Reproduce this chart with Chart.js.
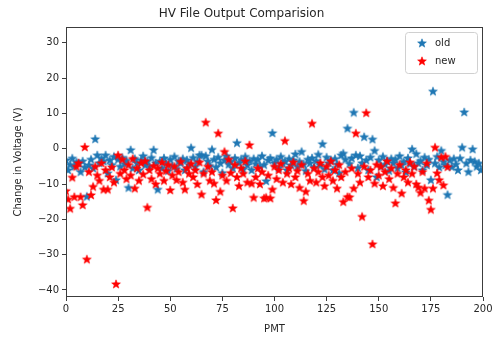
<!DOCTYPE html>
<html>
<head>
<meta charset="utf-8">
<script src="https://cdn.jsdelivr.net/npm/chart.js@4/dist/chart.umd.min.js"></script>
<style>
  html, body { margin: 0; padding: 0; background: #fff; }
  #wrap { width: 492px; height: 337px; }
</style>
</head>
<body>
<div id="wrap"><canvas id="c" width="492" height="337"></canvas></div>
<script>
// PMT index and voltage change (V) for the old HV file
const pmtOld = [
  0,1,2,3,4,5,6,7,8,9,10,11,12,13,14,15,16,17,18,19,
  20,21,22,23,24,25,26,27,28,29,30,31,32,33,34,35,36,37,38,39,
  40,41,42,43,44,45,46,47,48,49,50,51,52,53,54,55,56,57,58,59,
  60,61,62,63,64,65,66,67,68,69,70,71,72,73,74,75,76,77,78,79,
  80,81,82,83,84,85,86,87,88,89,90,91,92,93,94,95,96,97,98,99,
  100,101,102,103,104,105,106,107,108,109,110,111,112,113,114,115,116,117,118,119,
  120,121,122,123,124,125,126,127,128,129,130,131,132,133,134,135,136,137,138,139,
  140,141,142,143,144,145,146,147,148,149,150,151,152,153,154,155,156,157,158,159,
  160,161,162,163,164,165,166,167,168,169,170,171,172,173,174,175,176,177,178,179,
  180,181,182,183,184,185,186,187,188,189,190,191,192,193,194,195,196,197,198,199
];
const oldValues = [
  -3.2,-6.0,-4.5,-2.7,-5.0,-3.8,-4.1,-6.5,-3.5,-5.2,
  -13.5,-4.6,-3.0,-5.5,2.8,-1.8,-4.0,-2.7,-3.5,-1.8,
  -6.9,-3.2,-4.5,-2.2,-8.8,-3.0,-5.0,-2.5,-4.2,-3.3,
  -11.0,-0.3,-5.5,-2.8,-4.0,-6.0,-3.2,-2.0,-4.6,-3.5,
  -5.0,-2.5,-0.3,-4.0,-11.5,-3.5,-5.5,-2.6,-4.2,-6.2,
  -3.0,-4.8,-2.2,-5.6,-3.5,-4.0,-2.8,-6.0,-3.2,-4.5,
  0.3,-2.5,-5.0,-3.6,-1.8,-1.8,-6.5,-2.0,-3.5,-4.8,
  -0.2,-3.0,-5.2,-2.4,-4.0,-6.8,-3.2,-2.0,-4.4,-3.6,
  -5.5,-2.6,1.7,-4.0,-3.0,-5.8,-2.2,-4.6,-3.4,-6.0,
  -2.8,-4.2,-3.0,-5.0,-2.0,-4.5,-9.1,-3.2,-2.6,4.5,
  -4.0,-3.0,-5.5,-2.2,-4.2,-3.5,-6.0,-2.8,-4.6,-3.2,
  -1.5,-5.0,-3.6,-0.8,-4.4,-6.2,-3.0,-4.0,-2.6,-5.2,
  -3.4,-1.6,-4.6,1.4,-5.8,-2.4,-4.0,-3.2,-6.0,-2.8,
  -4.4,-6.9,-1.8,-1.3,-3.0,5.8,-4.2,-2.6,10.3,-1.8,
  -5.4,-2.0,-4.0,3.4,-3.2,-6.0,-2.4,2.7,-0.5,-8.0,
  -3.2,-5.0,-2.2,-4.4,-3.4,-6.2,-2.8,-4.0,-3.0,-5.4,
  -2.0,-4.6,-3.6,-6.6,-2.6,-4.2,-0.1,-5.0,-1.4,-4.0,
  -3.4,-6.0,-2.4,-4.6,-3.0,-8.8,16.3,-4.1,-2.2,-5.2,
  -0.5,-3.6,-4.6,-13.0,-3.2,-5.1,-2.8,-4.4,-6.0,-2.7,
  0.4,10.4,-4.1,-6.5,-3.2,-0.1,-3.6,-5.0,-4.1,-6.0
];

// PMT index and voltage change (V) for the new HV file
const pmtNew = [
  0,1,2,3,4,5,6,7,8,9,10,11,12,13,14,15,16,17,18,19,
  20,21,22,23,24,25,26,27,28,29,30,31,32,33,34,35,36,37,38,39,
  40,41,42,43,44,45,46,47,48,49,50,51,52,53,54,55,56,57,58,59,
  60,61,62,63,64,65,66,67,68,69,70,71,72,73,74,75,76,77,78,79,
  80,81,82,83,84,85,86,87,88,89,90,91,92,93,94,95,96,97,98,99,
  100,101,102,103,104,105,106,107,108,109,110,111,112,113,114,115,116,117,118,119,
  120,121,122,123,124,125,126,127,128,129,130,131,132,133,134,135,136,137,138,139,
  140,141,142,143,144,145,146,147,148,149,150,151,152,153,154,155,156,157,158,159,
  160,161,162,163,164,165,166,167,168,169,170,171,172,173,174,175,176,177,178,179,
  180,181,182,183
];
const newValues = [
  -11.9,-14.3,-16.9,-8.1,-13.6,-5.0,-4.0,-13.6,-15.9,0.5,
  -31.3,-6.5,-13.1,-10.7,-5.0,-7.5,-9.0,-4.0,-11.5,-6.0,
  -11.5,-8.0,-5.2,-9.5,-38.3,-1.8,-7.0,-3.0,-6.0,-8.5,
  -4.5,-7.5,-2.8,-11.2,-5.5,-9.0,-4.0,-7.2,-3.5,-16.6,
  -6.0,-8.5,-4.8,-10.0,-5.5,-7.0,-3.8,-9.0,-6.2,-4.5,
  -11.7,-7.5,-5.0,-8.8,-6.5,-3.6,-9.5,-11.5,-5.5,-7.0,
  -4.2,-8.0,-6.0,-10.0,-3.8,-12.9,-7.0,7.5,-5.0,-9.0,
  -6.5,-9.8,-14.5,4.4,-12.1,-7.5,-0.8,-9.0,-3.0,-6.8,
  -16.8,-4.5,-8.0,-10.5,-5.5,-7.0,-3.5,-9.5,1.1,-9.8,
  -13.8,-8.0,-5.5,-10.0,-6.5,-14.0,-13.8,-7.5,-14.0,-11.5,
  -5.0,-8.5,-6.0,-4.2,-9.5,2.3,-7.0,-5.5,-10.0,-3.8,
  -8.0,-6.2,-11.0,-4.5,-14.7,-12.1,-7.0,-9.0,7.2,-5.5,
  -9.5,-6.5,-4.0,-8.0,-10.5,-5.0,-7.5,-3.5,-9.0,-6.0,
  -11.2,-4.5,-8.0,-15.0,-6.5,-13.6,-13.7,-5.5,-11.2,4.4,
  -7.0,-9.5,-19.2,-5.0,10.2,-8.0,-6.0,-27.0,-9.8,-4.5,
  -7.5,-5.0,-10.5,-6.5,-3.5,-8.5,-5.5,-11.0,-15.4,-7.0,
  -4.5,-12.6,-8.0,-6.0,-9.5,-3.8,-7.0,-5.0,-10.0,-10.9,
  -12.4,-6.5,-11.2,-4.1,-14.6,-17.2,-11.2,0.4,-6.9,-8.8,
  -2.4,-10.3,-2.2,-5.1
];

const xTicks = [0, 25, 50, 75, 100, 125, 150, 175, 200];
const yTicks = [-40, -30, -20, -10, 0, 10, 20, 30];

const OLD_COLOR = '#1f77b4';
const NEW_COLOR = '#ff0000';

// Filled five-pointed star, used as the point marker
function starImage(color, r) {
  const size = Math.ceil(r * 2 + 2);
  const cv = document.createElement('canvas');
  cv.width = size; cv.height = size;
  const g = cv.getContext('2d');
  const c = size / 2;
  g.beginPath();
  for (let i = 0; i < 10; i++) {
    const rad = i % 2 ? r * 0.42 : r;
    const a = -Math.PI / 2 + i * Math.PI / 5;
    g.lineTo(c + rad * Math.cos(a), c + rad * Math.sin(a) + 0.4);
  }
  g.closePath();
  g.fillStyle = color;
  g.fill();
  g.lineWidth = 0.6;
  g.strokeStyle = color;
  g.stroke();
  return cv;
}
const starOld = starImage(OLD_COLOR, 4.6);
const starNew = starImage(NEW_COLOR, 4.6);

const toPoints = (xs, ys) => xs.map((x, i) => ({ x: x, y: ys[i] }));

const FONT = "'DejaVu Sans', sans-serif";
const TEXT = '#262626';
const AXIS = '#3c3c3c';

// Axes frame drawn over the markers, like spines
const framePlugin = {
  id: 'frame',
  afterDatasetsDraw(chart) {
    const { ctx, chartArea: a } = chart;
    ctx.save();
    ctx.strokeStyle = AXIS;
    ctx.lineWidth = 1;
    ctx.strokeRect(Math.round(a.left) + 0.5, Math.round(a.top) + 0.5,
                   Math.round(a.right - a.left) - 1, Math.round(a.bottom - a.top) - 1);
    ctx.restore();
  }
};

// Legend box in the upper-right corner of the plot area
const legendPlugin = {
  id: 'cornerLegend',
  afterDraw(chart) {
    const { ctx, chartArea: a } = chart;
    const entries = [
      { img: starOld, label: chart.data.datasets[0].label },
      { img: starNew, label: chart.data.datasets[1].label }
    ];
    const w = 72, h = 41;
    const x = a.right - 6 - w, y = a.top + 5;
    ctx.save();
    ctx.beginPath();
    ctx.roundRect(x + 0.5, y + 0.5, w, h, 3);
    ctx.fillStyle = 'rgba(255,255,255,0.85)';
    ctx.fill();
    ctx.strokeStyle = '#d0d0d0';
    ctx.lineWidth = 1;
    ctx.stroke();
    ctx.font = '10px ' + FONT;
    ctx.fillStyle = TEXT;
    ctx.textBaseline = 'middle';
    entries.forEach((e, i) => {
      const cy = y + 11 + i * 18;
      ctx.drawImage(e.img, x + 17 - e.img.width / 2, cy - e.img.height / 2);
      ctx.fillText(e.label, x + 30, cy);
    });
    ctx.restore();
  }
};

new Chart(document.getElementById('c'), {
  type: 'scatter',
  data: {
    datasets: [
      {
        label: 'old',
        data: toPoints(pmtOld, oldValues),
        pointStyle: starOld,
        backgroundColor: OLD_COLOR,
        borderColor: OLD_COLOR,
        pointRadius: 4,
        order: 2
      },
      {
        label: 'new',
        data: toPoints(pmtNew, newValues),
        pointStyle: starNew,
        backgroundColor: NEW_COLOR,
        borderColor: NEW_COLOR,
        pointRadius: 4,
        order: 1
      }
    ]
  },
  options: {
    responsive: false,
    devicePixelRatio: 1,
    animation: false,
    layout: { padding: { left: 0, right: 9, top: 0, bottom: 0 } },
    plugins: {
      legend: { display: false },
      tooltip: { enabled: false },
      title: {
        display: true,
        text: 'HV File Output Comparision',
        color: TEXT,
        font: { family: FONT, size: 12, weight: 'normal' },
        padding: { top: 7, bottom: 5.6 }
      }
    },
    scales: {
      x: {
        type: 'linear',
        min: 0,
        max: 200,
        afterBuildTicks: s => { s.ticks = xTicks.map(v => ({ value: v })); },
        afterFit: s => { s.height = 40; s.paddingLeft = 0; s.paddingRight = 0; },
        grid: { drawOnChartArea: false, drawTicks: true, tickLength: 4, color: AXIS },
        border: { display: false },
        ticks: { color: TEXT, font: { family: FONT, size: 10 }, padding: 2, maxRotation: 0 },
        title: {
          display: true, text: 'PMT', color: TEXT,
          font: { family: FONT, size: 10 }, padding: { top: 0, bottom: 2 }
        }
      },
      y: {
        type: 'linear',
        min: -42,
        max: 34.5,
        afterBuildTicks: s => { s.ticks = yTicks.map(v => ({ value: v })); },
        afterFit: s => { s.width = 66; s.paddingTop = 0; s.paddingBottom = 0; },
        grid: { drawOnChartArea: false, drawTicks: true, tickLength: 4, color: AXIS },
        border: { display: false },
        ticks: {
          color: TEXT, font: { family: FONT, size: 10 }, padding: 3,
          callback: v => String(v).replace('-', '\u2212')
        },
        title: {
          display: true, text: 'Change in Voltage (V)', color: TEXT,
          font: { family: FONT, size: 10 }, padding: { top: 12, bottom: 0 }
        }
      }
    }
  },
  plugins: [framePlugin, legendPlugin]
});
</script>
</body>
</html>
